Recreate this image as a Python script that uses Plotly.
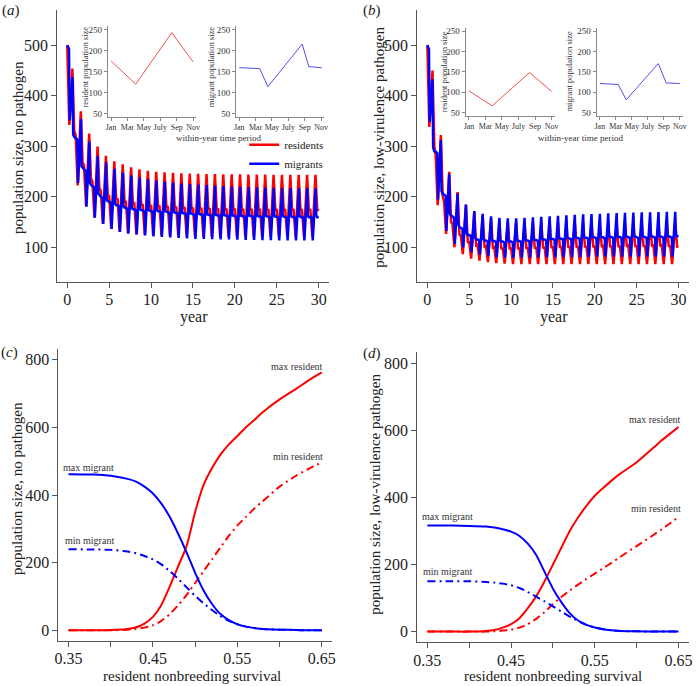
import plotly.graph_objects as go

W, H = 699, 686
FONT = "Liberation Serif, Times New Roman, serif"

# ---------------- data ----------------
YEARS = list(range(30))

# panel (a): no pathogen, residents (within-year vertices: Jan, Apr, Aug, Nov)
A_RES_MONTHS = [1, 4, 8.4, 11]
A_RES_JAN = [500, 322, 262, 230, 212, 201, 195, 190, 187, 185, 183, 182, 181, 180, 179,
             178, 177.5, 177, 176.5, 176, 176, 175.5, 175.5, 175.5, 175, 175, 175, 175, 175, 175]
A_RES_MIN = [342, 222, 181, 158, 146, 136, 130, 127, 125, 124, 123, 122, 121.5, 121, 121,
             120.5, 120.5, 120.5, 120, 120, 120, 120, 120, 120, 120, 120, 120, 120, 120, 120]
A_RES_MAX = [454, 369, 325, 299, 281, 270, 264, 258, 254, 251, 249, 248, 247, 246, 245.5,
             245, 244.5, 244.5, 244, 244, 244, 243.5, 243.5, 243.5, 243, 243, 243, 243, 243, 243]
A_RES_NOV = [330, 268, 236, 216, 204, 196, 190, 186, 183, 181, 179, 178, 177, 176, 175.5,
             175, 174.5, 174, 173.5, 173, 173, 172.5, 172.5, 172.5, 172, 172, 172, 172, 172, 172]
A_RES_END = 175

# panel (a): migrants (Jan, Mar, Apr-May, Aug-Sep, Sep-Oct, Nov)
A_MIG_MONTHS = [1, 3.5, 4.5, 8.7, 9.5, 11.1]
A_MIG_JAN = [500, 316, 254, 221, 200, 190, 183, 178, 175, 173, 172, 171, 169, 168, 167,
             166, 165, 164, 163, 162.5, 162, 161.5, 161, 161, 160.5, 160.5, 160, 160, 160, 160]
A_MIG_P2 = [493, 313, 251, 218, 197, 187, 180, 175, 172, 170, 169, 168, 167, 166, 165,
            164, 163, 162, 161.5, 161, 160, 159.5, 159, 158.5, 158, 158, 157.5, 157.5, 157, 157]
A_MIG_MIN = [351, 227, 180, 158, 146, 136, 130, 127, 125, 123, 121, 120, 119, 118, 117,
             116, 116, 115.5, 115, 115, 114.5, 114, 114, 113.5, 113.5, 113, 113, 113, 113, 113]
A_MIG_MAX = [437, 354, 309, 281, 268, 255, 247, 242, 238, 235, 232, 230, 228, 226, 225,
             224, 223, 222, 221, 220, 219.5, 219, 218.5, 218, 217.5, 217, 217, 216.5, 216.5, 216]
A_MIG_P5 = [323, 260, 227, 206, 194, 186, 181, 177, 175, 174, 173, 171, 170, 168, 167,
            166, 165, 164, 163.5, 163, 162.5, 162.5, 162, 162, 162, 162, 162, 162, 162, 162]
A_MIG_NOV = [318, 256, 223, 202, 191, 183, 178, 175, 173, 172, 171, 170, 168, 167, 166,
             165, 164, 163, 162.5, 162, 161.5, 161, 160.5, 160.5, 160, 160, 159.5, 159.5, 159, 159]
A_MIG_END = 160

# panel (b): low-virulence pathogen, residents
B_RES_MONTHS = [1, 3.8, 8.35, 11]
B_RES_JAN = [500, 280, 190, 145, 122, 110, 104, 101, 99, 98.5, 98.5, 99, 99.5, 100, 100.5,
             101, 101, 101.5, 101.5, 102, 102, 102, 102.5, 102.5, 102.5, 103, 103, 103, 103, 103]
B_RES_MIN = [338, 183, 126, 99.5, 86, 77, 73, 70, 68, 67, 66, 66, 66, 66, 66,
             66, 66, 66, 66, 66, 66, 66, 66, 66, 66, 66, 66, 66, 66, 66]
B_RES_MAX = [450, 322, 249, 209, 183, 170, 162, 156, 152, 150, 149, 148.5, 148.5, 148, 148,
             148, 148, 148, 148, 148, 148, 148, 148, 148, 148, 148, 148, 148, 148, 148]
B_RES_NOV = [300, 200, 150, 125, 110, 103, 99, 97, 96, 95.5, 96, 96.5, 97, 97.5, 98,
             98.5, 99, 99, 99.5, 99.5, 100, 100, 100, 100.5, 100.5, 100.5, 101, 101, 101, 101]
B_RES_END = 102

# panel (b): migrants
B_MIG_MONTHS = [1, 3.3, 4.3, 8.3, 9.3, 11]
B_MIG_JAN = [500, 289, 204, 161, 138, 124, 115, 113, 112, 111, 111, 112, 113, 114, 115,
             116, 117, 117.5, 118, 118.5, 119, 119.5, 120, 120, 120, 120.5, 120.5, 121, 121, 121]
B_MIG_P2 = [492, 286, 201, 158, 136, 122, 113, 111, 110, 109, 109, 110, 111, 112, 113,
            114, 115, 115.5, 116, 116.5, 117, 117, 117.5, 117.5, 118, 118, 118, 118.5, 118.5, 118.6]
B_MIG_MIN = [348, 194, 132, 106, 99, 90, 85, 82, 80, 79, 79, 79, 79, 79.5, 80,
             80, 80, 80.5, 80.5, 80.5, 81, 81, 81, 81, 81, 81, 81, 81, 81, 81]
B_MIG_MAX = [433, 312, 245, 206, 184.5, 171.5, 166, 161, 158, 157, 157, 158, 159, 160, 161,
             162, 163, 164, 165, 165.5, 166, 167, 167.5, 168, 168.5, 169, 169, 169.5, 170, 170]
B_MIG_P5 = [297, 211, 166, 145, 127, 119, 116, 114, 113, 113, 114, 115, 116, 117, 117.5,
            118, 119, 119.5, 120, 120.5, 121, 121, 121.5, 121.5, 122, 122, 122, 122, 122.5, 122.4]
B_MIG_NOV = [290, 205, 162, 139, 124, 115, 113, 112, 111, 111, 112, 113, 114, 115, 116,
             117, 117.5, 118, 118.5, 119, 119.5, 120, 120, 120.5, 120.5, 120.5, 121, 121, 121, 121]
B_MIG_END = 121

# insets: last within-year cycle
INSET_TICK_MONTHS = [1, 3, 5, 7, 9, 11]
INSET_TICK_LABELS = ["Jan", "Mar", "May", "July", "Sep", "Nov"]
A_INSET_RES_MONTHS = [1, 4, 8.4, 11]
A_INSET_RES = [175.5, 120, 243, 173]
A_INSET_MIG_MONTHS = [1, 3.5, 4.5, 8.7, 9.5, 11.1]
A_INSET_MIG = [159.5, 157, 114, 216, 162, 159]
B_INSET_RES_MONTHS = [1, 3.8, 8.35, 11]
B_INSET_RES = [103, 66, 148, 101.5]
B_INSET_MIG_MONTHS = [1, 3.3, 4.3, 8.3, 9.3, 11]
B_INSET_MIG = [121, 118.6, 81, 170, 122.4, 121]

# panels (c), (d): vs resident nonbreeding survival
SURV = [0.35, 0.38, 0.40, 0.42, 0.43, 0.44, 0.45, 0.46, 0.47, 0.48, 0.49, 0.50, 0.51,
        0.52, 0.53, 0.54, 0.55, 0.56, 0.57, 0.58, 0.60, 0.62, 0.63, 0.64, 0.65]
C_MAX_RES = [0, 0, 1, 4, 9, 20, 40, 75, 130, 190, 250, 350, 430,
             480, 520, 550, 575, 600, 622, 645, 683, 715, 732, 748, 763]
C_MIN_RES = [0, 0, 0, 2, 4, 8, 15, 28, 48, 75, 105, 140, 175,
             210, 245, 280, 310, 335, 360, 382, 425, 458, 472, 485, 497]
C_MAX_MIG = [462, 461, 457, 448, 440, 425, 405, 375, 335, 285, 230, 170, 118,
             78, 48, 30, 18, 11, 7, 4, 2, 1, 0, 0, 0]
C_MIN_MIG = [240, 239, 238, 233, 228, 220, 210, 195, 175, 152, 127, 102, 80,
             60, 42, 28, 18, 11, 7, 4, 2, 1, 0, 0, 0]
D_MAX_RES = [0, 0, 0, 2, 5, 12, 22, 40, 70, 105, 150, 200, 250,
             300, 340, 375, 405, 428, 450, 470, 505, 548, 570, 590, 610]
D_MIN_RES = [0, 0, 0, 0, 1, 3, 6, 12, 22, 38, 58, 82, 103,
             122, 140, 157, 173, 189, 205, 222, 255, 288, 305, 323, 341]
D_MAX_MIG = [316, 316, 315, 313, 310, 305, 298, 285, 262, 228, 178, 128, 88,
             55, 33, 20, 12, 7, 4, 2, 1, 0, 0, 0, 0]
D_MIN_MIG = [150, 150, 150, 148, 146, 143, 138, 130, 118, 104, 90, 75, 60,
             45, 32, 20, 12, 7, 4, 2, 1, 0, 0, 0, 0]


def build(months, cols, end_val):
    t, v = [], []
    for k in YEARS:
        for m, col in zip(months, cols):
            t.append(k + (m - 1) / 12)
            v.append(col[k])
    t.append(30)
    v.append(end_val)
    return t, v


RED, BLUE = "#ff0000", "#0000ff"
fig = go.Figure()

ta, va = build(A_RES_MONTHS, [A_RES_JAN, A_RES_MIN, A_RES_MAX, A_RES_NOV], A_RES_END)
fig.add_trace(go.Scatter(x=ta, y=va, mode="lines", name="residents",
                         line=dict(color=RED, width=2.5), xaxis="x", yaxis="y"))
ta, va = build(A_MIG_MONTHS, [A_MIG_JAN, A_MIG_P2, A_MIG_MIN, A_MIG_MAX, A_MIG_P5, A_MIG_NOV], A_MIG_END)
fig.add_trace(go.Scatter(x=ta, y=va, mode="lines", name="migrants",
                         line=dict(color=BLUE, width=2.5), xaxis="x", yaxis="y"))
tb, vb = build(B_RES_MONTHS, [B_RES_JAN, B_RES_MIN, B_RES_MAX, B_RES_NOV], B_RES_END)
fig.add_trace(go.Scatter(x=tb, y=vb, mode="lines", showlegend=False,
                         line=dict(color=RED, width=2.5), xaxis="x2", yaxis="y2"))
tb, vb = build(B_MIG_MONTHS, [B_MIG_JAN, B_MIG_P2, B_MIG_MIN, B_MIG_MAX, B_MIG_P5, B_MIG_NOV], B_MIG_END)
fig.add_trace(go.Scatter(x=tb, y=vb, mode="lines", showlegend=False,
                         line=dict(color=BLUE, width=2.5), xaxis="x2", yaxis="y2"))

DD = "8px,4px,2px,4px"
for ax, series in (("3", [(C_MAX_RES, RED, "solid"), (C_MIN_RES, RED, DD),
                          (C_MAX_MIG, BLUE, "solid"), (C_MIN_MIG, BLUE, DD)]),
                   ("4", [(D_MAX_RES, RED, "solid"), (D_MIN_RES, RED, DD),
                          (D_MAX_MIG, BLUE, "solid"), (D_MIN_MIG, BLUE, DD)])):
    for ys, col, dash in series:
        fig.add_trace(go.Scatter(x=SURV, y=ys, mode="lines", showlegend=False,
                                 line=dict(color=col, width=2, dash=dash, shape="spline", smoothing=0.6),
                                 xaxis="x" + ax, yaxis="y" + ax))

for ax, xs, ys, col in (("5", A_INSET_RES_MONTHS, A_INSET_RES, "#f05050"),
                        ("6", A_INSET_MIG_MONTHS, A_INSET_MIG, "#5050f0"),
                        ("7", B_INSET_RES_MONTHS, B_INSET_RES, "#f05050"),
                        ("8", B_INSET_MIG_MONTHS, B_INSET_MIG, "#5050f0")):
    fig.add_trace(go.Scatter(x=xs, y=ys, mode="lines", showlegend=False,
                             line=dict(color=col, width=1), xaxis="x" + ax, yaxis="y" + ax))


def px_dom_x(a, b):
    return [a / W, b / W]


def px_dom_y(top, bottom):
    return [1 - bottom / H, 1 - top / H]


AX = "#555555"


def main_axis(domain, rng, anchor, tickvals, ticktext=None, standoff=None):
    d = dict(domain=domain, range=rng, anchor=anchor, showline=True, linecolor=AX, linewidth=1,
             ticks="outside", ticklen=5, tickcolor=AX, showgrid=False, zeroline=False,
             tickfont=dict(family=FONT, size=16, color="#222"), tickvals=tickvals, fixedrange=True,
             ticklabeloverflow="allow", tickangle=0)
    if ticktext is not None:
        d["ticktext"] = ticktext
    if standoff is not None:
        d["ticklabelstandoff"] = standoff
    return d


def inset_axis(domain, rng, anchor, tickvals, ticktext=None, size=9):
    d = dict(domain=domain, range=rng, anchor=anchor, showline=True, linecolor="#888", linewidth=1,
             ticks="outside", ticklen=3, tickcolor="#888", showgrid=False, zeroline=False,
             tickfont=dict(family=FONT, size=size, color="#333"), tickvals=tickvals, tickangle=0,
             ticklabeloverflow="allow", fixedrange=True)
    if ticktext is not None:
        d["ticktext"] = ticktext
    return d


YR_TICKS = [0, 5, 10, 15, 20, 25, 30]
SURV_TICKS = [0.35, 0.40, 0.45, 0.50, 0.55, 0.60, 0.65]
SURV_LABELS = ["0.35", "", "0.45", "", "0.55", "", "0.65"]
POP_TICKS = [100, 200, 300, 400, 500]
BIG_TICKS = [0, 200, 400, 600, 800]
INS_Y = [50, 100, 150, 200, 250]

layout = dict(
    width=W, height=H, margin=dict(l=0, r=0, t=0, b=0), autosize=False,
    paper_bgcolor="white", plot_bgcolor="rgba(0,0,0,0)",
    font=dict(family=FONT, color="#222"),
    showlegend=True,
    legend=dict(x=243 / W, y=1 - 129 / H, xanchor="left", yanchor="top", bgcolor="rgba(0,0,0,0)",
                font=dict(family=FONT, size=11, color="#222"), itemwidth=30, tracegroupgap=0),
    xaxis=main_axis(px_dom_x(53.8, 328.5), [-1.2, 31.2], "y", YR_TICKS, standoff=-3),
    yaxis=main_axis(px_dom_y(8, 282), [30, 570], "x", POP_TICKS),
    xaxis2=main_axis(px_dom_x(418.1, 692.5), [-1.2, 31.2], "y2", YR_TICKS, standoff=-3),
    yaxis2=main_axis(px_dom_y(8, 282), [30, 570], "x2", POP_TICKS),
    xaxis3=main_axis(px_dom_x(55, 331.7), [0.338, 0.662], "y3", SURV_TICKS, SURV_LABELS, standoff=-2),
    yaxis3=main_axis(px_dom_y(349.1, 642.9), [-32, 832], "x3", BIG_TICKS),
    xaxis4=main_axis(px_dom_x(418.1, 692.5), [0.338, 0.662], "y4", SURV_TICKS, SURV_LABELS, standoff=-2),
    yaxis4=main_axis(px_dom_y(352.5, 644.1), [-32, 832], "x4", BIG_TICKS),
    xaxis5=inset_axis(px_dom_x(105, 194.6), [0.6, 11.4], "y5", INSET_TICK_MONTHS, INSET_TICK_LABELS, 8),
    yaxis5=inset_axis(px_dom_y(24.6, 115.4), [42, 258], "x5", INS_Y),
    xaxis6=inset_axis(px_dom_x(234.7, 324), [0.6, 11.4], "y6", INSET_TICK_MONTHS, INSET_TICK_LABELS, 8),
    yaxis6=inset_axis(px_dom_y(24.6, 115.4), [42, 258], "x6", INS_Y),
    xaxis7=inset_axis(px_dom_x(467, 557.2), [0.6, 11.4], "y7", INSET_TICK_MONTHS, INSET_TICK_LABELS, 8),
    yaxis7=inset_axis(px_dom_y(26, 114.3), [42, 258], "x7", INS_Y),
    xaxis8=inset_axis(px_dom_x(599.5, 686.9), [0.6, 11.4], "y8", INSET_TICK_MONTHS, INSET_TICK_LABELS, 8),
    yaxis8=inset_axis(px_dom_y(26, 114.3), [42, 258], "x8", INS_Y),
)
fig.update_layout(**layout)


def paper_text(text, x, y, size, angle=0, color="#222"):
    return dict(text=text, x=x / W, y=1 - y / H, xref="paper", yref="paper", showarrow=False,
                textangle=angle, font=dict(family=FONT, size=size, color=color),
                xanchor="center", yanchor="middle")


ann = [
    paper_text("(<i>a</i>)", 7, 9, 15),
    paper_text("(<i>b</i>)", 372, 9, 15),
    paper_text("(<i>c</i>)", 6, 353, 15),
    paper_text("(<i>d</i>)", 372, 354, 15),
    paper_text("population size, no pathogen", 14, 146, 15, -90),
    paper_text("year", 192, 317, 16),
    paper_text("population size, low-virulence pathogen", 379, 146, 15, -90),
    paper_text("year", 556, 317, 16),
    paper_text("population size, no pathogen", 13, 489, 15, -90),
    paper_text("resident nonbreeding survival", 190, 678, 15),
    paper_text("population size, low-virulence pathogen", 375, 495, 15, -90),
    paper_text("resident nonbreeding survival", 555, 678, 15),
    paper_text("resident population size", 82, 66, 8.5, -90, "#333"),
    paper_text("migrant population size", 209, 66, 8.5, -90, "#333"),
    paper_text("within-year time period", 217, 137, 9, 0, "#333"),
    paper_text("resident population size", 445, 70, 8.5, -90, "#333"),
    paper_text("migrant population size", 571.5, 70, 8.5, -90, "#333"),
    paper_text("within-year time period", 583, 137, 9, 0, "#333"),
]

CURVE_LABELS = [
    ("x3", "y3", "max resident", 0.6535, 779, "right"),
    ("x3", "y3", "min resident", 0.6535, 515, "right"),
    ("x3", "y3", "max migrant", 0.374, 482, "center"),
    ("x3", "y3", "min migrant", 0.375, 265, "center"),
    ("x4", "y4", "max resident", 0.6555, 632, "right"),
    ("x4", "y4", "min resident", 0.6555, 368, "right"),
    ("x4", "y4", "max migrant", 0.374, 342, "center"),
    ("x4", "y4", "min migrant", 0.374, 179, "center"),
]
for xr, yr, txt, xv, yv, anc in CURVE_LABELS:
    ann.append(dict(text=txt, x=xv, y=yv, xref=xr, yref=yr, showarrow=False,
                    font=dict(family=FONT, size=10, color="#333"), xanchor=anc, yanchor="middle"))

fig.update_layout(annotations=ann)
fig.write_html("out.html", config={"displayModeBar": False},
               post_script="document.body.style.margin='0';document.body.style.overflow='hidden';")
